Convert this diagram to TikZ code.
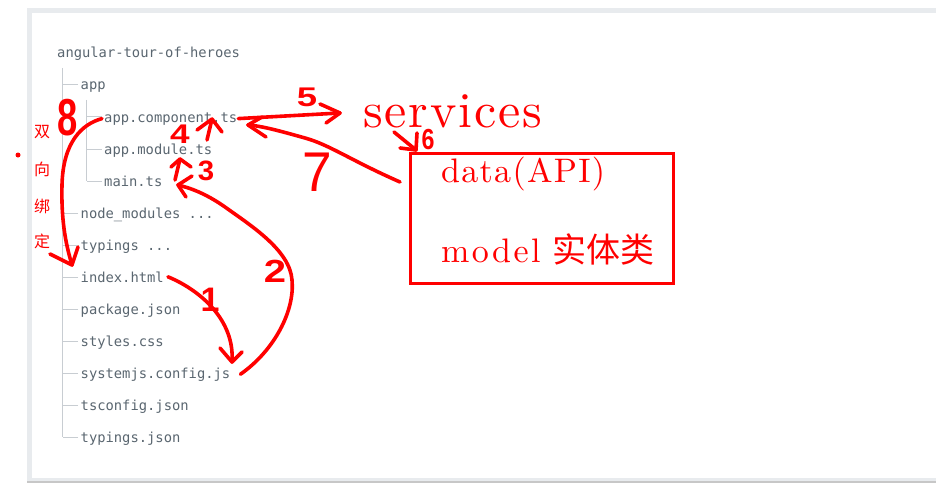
\documentclass[tikz,border=0pt]{standalone}
\usepackage{fontspec}
\newfontfamily\monofont{DejaVu Sans Mono}
\newfontfamily\cjk{Noto Sans CJK SC}
\newfontfamily\digfont{Liberation Sans}
\newfontfamily\serifA{lmroman10-regular.otf}[LetterSpace=3.8]
\newfontfamily\serifB{lmroman10-regular.otf}[LetterSpace=7]
\definecolor{txtgray}{RGB}{90,102,112}
\definecolor{linegray}{RGB}{200,205,210}
\definecolor{framegray}{RGB}{232,235,238}
\definecolor{hred}{RGB}{255,0,0}
\newcommand\mydig[3]{{\digfont\fontsize{#1}{#1}\selectfont\scalebox{#2}[1]{#3}}}
\begin{document}
\begin{tikzpicture}[x=1pt,y=-1pt,
  file/.style={anchor=base west, inner sep=0pt, text=txtgray, font=\monofont\fontsize{13.8}{14}\selectfont},
  tree/.style={draw=linegray, line width=1pt},
  hand/.style={draw=hred, line width=3.6pt, line cap=round, line join=round},
  digit/.style={text=hred, inner sep=0pt},
  bigtext/.style={anchor=base west, inner sep=0pt, text=hred},
  vch/.style={text=hred, inner sep=0pt, font=\cjk\fontsize{16}{16}\selectfont}]
\useasboundingbox (0,0) rectangle (936,492);
% panel
\fill[framegray] (27,8) rectangle (940,483);
\fill[white] (32,13) rectangle (940,478);
\draw[color=black!22, line width=1.2pt] (27,482) -- (940,482);

% file tree
\node[file] (root) at (57,58) {angular-tour-of-heroes};
\node[file] (app) at (80.5,90) {app};
\node[file] (appcomp) at (104,122) {app.component.ts};
\node[file] (appmod) at (104,154) {app.module.ts};
\node[file] (main) at (104,186) {main.ts};
\node[file] (nodemod) at (80.5,218) {node\_modules ...};
\node[file] (typ) at (80.5,250) {typings ...};
\node[file] (index) at (80.5,282) {index.html};
\node[file] (pkg) at (80.5,314) {package.json};
\node[file] (styles) at (80.5,346) {styles.css};
\node[file] (sysjs) at (80.5,378) {systemjs.config.js};
\node[file] (tsconf) at (80.5,410) {tsconfig.json};
\node[file] (typjson) at (80.5,442) {typings.json};

\draw[tree] (62.5,68) -- (62.5,437);
\foreach \n in {app,nodemod,typ,index,pkg,styles,sysjs,tsconf,typjson}
  \draw[tree] ([xshift=-2.5pt,yshift=5pt]\n.base west) -- ++(-15.5,0);
\draw[tree] (86.5,100) -- (86.5,181);
\foreach \n in {appcomp,appmod,main}
  \draw[tree] ([xshift=-2.5pt,yshift=5pt]\n.base west) -- ++(-15,0);

% services and box
\node[bigtext, font=\serifA\fontsize{50}{50}\selectfont] (services) at (363,128) {services};
\node[draw=hred, line width=3pt, minimum width=263pt, minimum height=130pt, inner sep=0pt] (box) at (541.5,218) {};
\node[bigtext, font=\serifA\fontsize{34}{34}\selectfont] (data) at (441,182) {data(API)};
\node[bigtext, font=\serifB\fontsize{34}{34}\selectfont] (model) at (441,262) {model\hspace{12pt}{\cjk 实体类}};

% vertical chinese label and dot
\node[vch] (cA) at (42,132) {双};
\node[vch] (cB) at (42,169) {向};
\node[vch] (cC) at (42,206) {绑};
\node[vch] (cD) at (42,241) {定};
\fill[hred] (18,155) circle (2.5);

% digits
\node[digit] (d1) at (210,300) {\mydig{34}{1}{\bfseries 1}};
\node[digit] (d2) at (275,271) {\mydig{32}{1.25}{\bfseries 2}};
\node[digit] (d3) at (206,171) {\mydig{28}{1.05}{\bfseries 3}};
\node[digit] (d4) at (180,134) {\mydig{27}{1.3}{\bfseries 4}};
\node[digit] (d5) at (307,97) {\mydig{27}{1.35}{\bfseries 5}};
\node[digit] (d6) at (428,140) {\mydig{29}{0.8}{\bfseries 6}};
\node[digit] (d7) at (317,172) {\mydig{56}{0.95}{7}};
\node[digit] (d8) at (68,118) {\mydig{52}{0.7}{\bfseries 8}};

% tips
\coordinate (t1) at (232,362);
\coordinate (t2) at (178,185);
\coordinate (t8) at (72,265);
\coordinate (t5) at (340,113);
\coordinate (t7) at (248,125);
\coordinate (t6) at (416,150);
\coordinate (s7) at (400,182);
\coordinate (s6) at (394,132);

% arrow 8
\draw[hand] ([xshift=-2pt]appcomp.west) .. controls (82,124) and (63,142) .. (62,185)
  .. controls (61,225) and (67,248) .. (t8);
\draw[hand] (50,254) -- (t8) -- (78,247);
% arrow 1
\draw[hand] ([xshift=4pt]index.east) .. controls (200,290) and (235,320) .. (t1);
\draw[hand] (220,348) -- (t1) -- (242,352);
% arrow 2
\draw[hand] ([xshift=10pt]sysjs.east) .. controls (275,350) and (295,310) .. (292,280)
  .. controls (290,250) and (250,225) .. (225,207)
  .. controls (205,193) and (190,188) .. (t2);
\draw[hand] (192,176) -- (t2) -- (186,197);
% arrow 3
\draw[hand] (175,180) -- (180,159);
\draw[hand] (171,167) -- (180,159) -- (191,167);
% arrow 4
\draw[hand] (207,140) -- (212,119);
\draw[hand] (197,130) -- (212,119) -- (222,132);
% arrow 5
\draw[hand] ([xshift=1pt]appcomp.east) -- (t5);
\draw[hand] (320,104) -- (t5) -- (326,123);
% arrow 7
\draw[hand] (s7) .. controls (350,160) and (330,145) .. (305,138)
  .. controls (280,131) and (262,126) .. (t7);
\draw[hand] (262,117) -- (t7) -- (266,137);
% arrow 6
\draw[hand] (s6) -- (t6);
\draw[hand] (400,148) -- (t6) -- (417,133);
\end{tikzpicture}
\end{document}
